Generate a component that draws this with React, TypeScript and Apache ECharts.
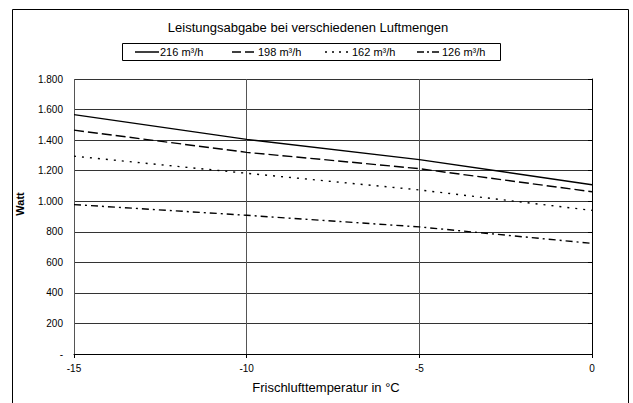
import React, { useEffect, useRef } from "react";
import * as echarts from "echarts";

const temperatures = [-15, -10, -5, 0];
const seriesNames = ["216 m³/h", "198 m³/h", "162 m³/h", "126 m³/h"];
const watt216 = [1567, 1405, 1272, 1108];
const watt198 = [1465, 1320, 1213, 1062];
const watt162 = [1295, 1183, 1074, 940];
const watt126 = [978, 908, 832, 724];
const titleText = "Leistungsabgabe bei verschiedenen Luftmengen";
const xAxisTitle = "Frischlufttemperatur in °C";
const yAxisTitle = "Watt";

const FONT = "Liberation Sans, Arial, sans-serif";

export default function App() {
  const ref = useRef<HTMLDivElement>(null);
  useEffect(() => {
    document.body.style.margin = "0";
    if (!ref.current) return;
    const chart = echarts.init(ref.current, null, { renderer: "svg" });
    const values = [watt216, watt198, watt162, watt126];
    const dashTypes: any[] = ["solid", [10, 4], [2, 6], [7, 4, 2, 4]];
    const legendDash: any[] = [null, [9, 4], [2, 5], [7, 3, 2, 3]];
    const legendIconX = [135, 232, 325, 417];
    const legendTextX = [160, 258, 352, 442];
    const fmtY = (v: number) =>
      v === 0 ? "-" : String(v).replace(/\B(?=(\d{3})+(?!\d))/g, ".");

    const legendGraphics: any[] = [
      {
        type: "rect",
        shape: { x: 122.5, y: 43.5, width: 378, height: 17 },
        style: { fill: "#fff", stroke: "#000", lineWidth: 1 },
        silent: true,
      },
    ];
    seriesNames.forEach((name, i) => {
      legendGraphics.push({
        type: "line",
        shape: { x1: legendIconX[i], y1: 52, x2: legendIconX[i] + 24, y2: 52 },
        style: {
          stroke: "#000",
          lineWidth: 1.5,
          lineDash: legendDash[i] || undefined,
        },
        silent: true,
      });
      legendGraphics.push({
        type: "text",
        x: legendTextX[i],
        y: 52,
        style: {
          text: name,
          fontFamily: FONT,
          fontSize: 11,
          fill: "#000",
          textAlign: "left",
          textVerticalAlign: "middle",
        },
      });
    });

    chart.setOption({
      animation: false,
      backgroundColor: "#fff",
      textStyle: { fontFamily: FONT, color: "#000" },
      grid: { left: 74, right: 41, top: 79, bottom: 49, containLabel: false },
      xAxis: {
        type: "value",
        min: -15,
        max: 0,
        interval: 5,
        axisLine: { show: true, onZero: false, lineStyle: { color: "#000", width: 1 } },
        axisTick: { show: true, length: 4, lineStyle: { color: "#000" } },
        axisLabel: { fontFamily: FONT, fontSize: 10, color: "#000", margin: 9 },
        splitLine: { show: true, lineStyle: { color: "#555", width: 1 } },
      },
      yAxis: {
        type: "value",
        min: 0,
        max: 1800,
        interval: 200,
        axisLine: { show: true, lineStyle: { color: "#000", width: 1 } },
        axisTick: { show: true, length: 4, lineStyle: { color: "#000" } },
        axisLabel: { fontFamily: FONT, fontSize: 10, color: "#000", margin: 11, formatter: fmtY },
        splitLine: { show: true, lineStyle: { color: "#333", width: 1 } },
      },
      series: seriesNames.map((name, i) => ({
        name,
        type: "line",
        symbol: "none",
        showSymbol: false,
        data: temperatures.map((t, j) => [t, values[i][j]]),
        lineStyle: { color: "#000", width: 1.4, type: dashTypes[i] },
        itemStyle: { color: "#000" },
      })),
      graphic: [
        {
          type: "rect",
          shape: { x: 12.5, y: 9.5, width: 616, height: 420 },
          style: { fill: "none", stroke: "#000", lineWidth: 1 },
          silent: true,
          z: -10,
        },
        {
          type: "text",
          x: 308,
          y: 27,
          style: {
            text: titleText,
            fontFamily: FONT,
            fontSize: 13,
            fill: "#000",
            textAlign: "center",
            textVerticalAlign: "middle",
          },
        },
        ...legendGraphics,
        {
          type: "text",
          x: 326,
          y: 387,
          style: {
            text: xAxisTitle,
            fontFamily: FONT,
            fontSize: 13,
            fill: "#000",
            textAlign: "center",
            textVerticalAlign: "middle",
          },
        },
        {
          type: "text",
          x: 20,
          y: 204,
          rotation: Math.PI / 2,
          style: {
            text: yAxisTitle,
            fontFamily: FONT,
            fontSize: 11,
            fontWeight: "bold",
            fill: "#000",
            textAlign: "center",
            textVerticalAlign: "middle",
          },
        },
      ],
    });
    return () => chart.dispose();
  }, []);
  return <div ref={ref} style={{ width: 633, height: 403 }} />;
}
